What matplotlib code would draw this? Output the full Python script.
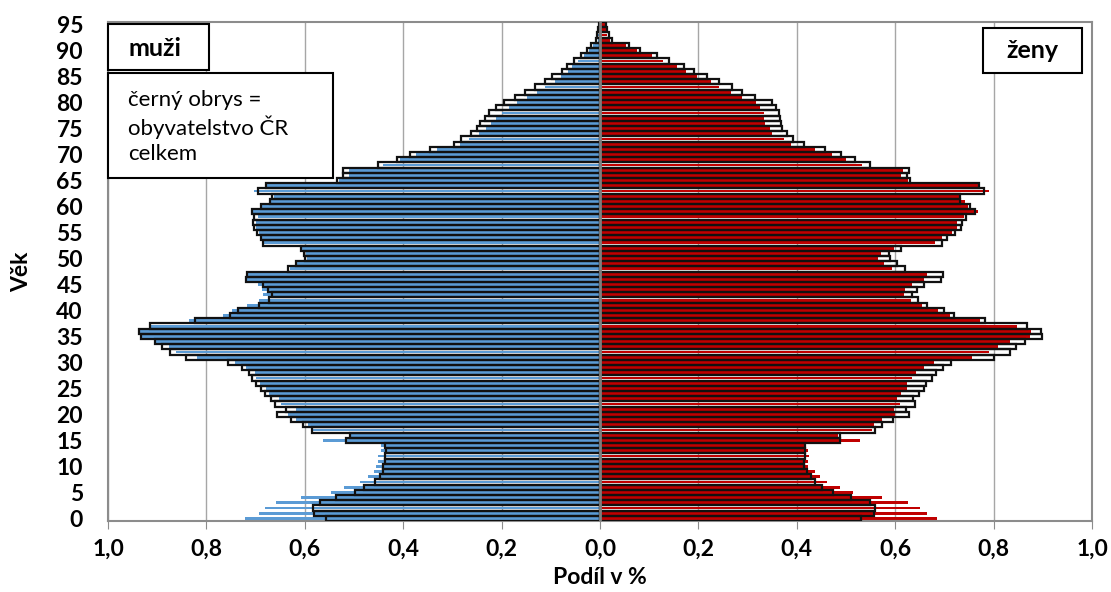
import matplotlib.pyplot as plt
from matplotlib.patches import Rectangle
import numpy as np

plt.rcParams['font.family'] = ['Lato', 'DejaVu Sans']

ages = list(range(96))

# podíl v % (muži se kreslí vlevo jako záporné hodnoty)
men_region = [0.721, 0.693, 0.680, 0.659, 0.608, 0.547, 0.520, 0.488, 0.472, 0.460,
              0.456, 0.452, 0.452, 0.445, 0.445, 0.564, 0.509, 0.584, 0.594, 0.618,
              0.635, 0.618, 0.649, 0.652, 0.672, 0.679, 0.691, 0.699, 0.701, 0.720,
              0.742, 0.820, 0.861, 0.877, 0.902, 0.934, 0.936, 0.913, 0.835, 0.766,
              0.747, 0.718, 0.694, 0.685, 0.688, 0.696, 0.718, 0.716, 0.630, 0.615,
              0.596, 0.598, 0.606, 0.682, 0.686, 0.693, 0.699, 0.699, 0.696, 0.705,
              0.686, 0.669, 0.662, 0.703, 0.676, 0.530, 0.511, 0.511, 0.441, 0.407,
              0.374, 0.332, 0.285, 0.266, 0.245, 0.232, 0.222, 0.211, 0.200, 0.185,
              0.169, 0.149, 0.129, 0.112, 0.091, 0.080, 0.066, 0.056, 0.044, 0.033,
              0.022, 0.014, 0.005, 0.004, 0.002, 0.001]
men_cr = [0.556, 0.581, 0.583, 0.570, 0.536, 0.498, 0.479, 0.458, 0.448, 0.441,
          0.441, 0.437, 0.438, 0.435, 0.437, 0.516, 0.509, 0.585, 0.603, 0.628,
          0.657, 0.638, 0.661, 0.668, 0.681, 0.689, 0.699, 0.708, 0.713, 0.728,
          0.756, 0.842, 0.873, 0.890, 0.905, 0.932, 0.936, 0.915, 0.823, 0.752,
          0.735, 0.694, 0.672, 0.666, 0.674, 0.684, 0.719, 0.718, 0.634, 0.618,
          0.599, 0.601, 0.608, 0.685, 0.689, 0.698, 0.704, 0.705, 0.703, 0.708,
          0.689, 0.671, 0.666, 0.695, 0.679, 0.535, 0.522, 0.522, 0.452, 0.413,
          0.387, 0.346, 0.297, 0.283, 0.263, 0.249, 0.243, 0.234, 0.225, 0.211,
          0.196, 0.173, 0.152, 0.132, 0.112, 0.097, 0.078, 0.068, 0.052, 0.039,
          0.027, 0.019, 0.009, 0.007, 0.005, 0.003]
women_region = [0.685, 0.664, 0.651, 0.625, 0.574, 0.515, 0.488, 0.461, 0.447, 0.437,
                0.422, 0.422, 0.424, 0.422, 0.416, 0.529, 0.484, 0.553, 0.556, 0.574,
                0.600, 0.597, 0.609, 0.603, 0.612, 0.624, 0.624, 0.635, 0.642, 0.658,
                0.678, 0.756, 0.791, 0.808, 0.834, 0.873, 0.875, 0.847, 0.773, 0.711,
                0.688, 0.654, 0.633, 0.617, 0.619, 0.634, 0.658, 0.664, 0.593, 0.578,
                0.566, 0.572, 0.597, 0.681, 0.696, 0.715, 0.725, 0.725, 0.739, 0.768,
                0.748, 0.742, 0.730, 0.791, 0.768, 0.627, 0.612, 0.615, 0.532, 0.500,
                0.471, 0.436, 0.388, 0.373, 0.349, 0.346, 0.336, 0.333, 0.333, 0.325,
                0.318, 0.288, 0.266, 0.242, 0.225, 0.198, 0.175, 0.157, 0.129, 0.105,
                0.075, 0.053, 0.020, 0.015, 0.012, 0.010]
women_cr = [0.530, 0.556, 0.558, 0.549, 0.510, 0.473, 0.452, 0.436, 0.428, 0.421,
            0.414, 0.414, 0.417, 0.416, 0.416, 0.488, 0.487, 0.558, 0.573, 0.595,
            0.628, 0.622, 0.641, 0.637, 0.649, 0.659, 0.663, 0.675, 0.683, 0.697,
            0.713, 0.800, 0.834, 0.845, 0.864, 0.898, 0.896, 0.868, 0.783, 0.719,
            0.700, 0.664, 0.646, 0.635, 0.644, 0.659, 0.693, 0.698, 0.620, 0.603,
            0.590, 0.588, 0.612, 0.695, 0.705, 0.722, 0.734, 0.736, 0.744, 0.763,
            0.753, 0.732, 0.732, 0.780, 0.771, 0.631, 0.624, 0.628, 0.549, 0.519,
            0.490, 0.458, 0.414, 0.393, 0.380, 0.370, 0.367, 0.365, 0.363, 0.358,
            0.349, 0.315, 0.289, 0.268, 0.242, 0.217, 0.191, 0.171, 0.140, 0.115,
            0.082, 0.058, 0.024, 0.018, 0.014, 0.012]

x_ticks = [-1.0, -0.8, -0.6, -0.4, -0.2, 0.0, 0.2, 0.4, 0.6, 0.8, 1.0]
x_labels = ['1,0', '0,8', '0,6', '0,4', '0,2', '0,0', '0,2', '0,4', '0,6', '0,8', '1,0']
y_ticks = list(range(0, 96, 5))

BLUE = '#5B9BD5'
RED = '#C00000'
GRAY = '#8C8C8C'
W, H = 1111, 592

fig = plt.figure(figsize=(W / 100, H / 100), dpi=100)
ax = fig.add_axes([108 / W, 1 - 521 / H, 984 / W, 499 / H])

# barevné pruhy
ax.barh(ages, -np.array(men_region), height=0.55, color=BLUE, zorder=2)
ax.barh(ages, women_region, height=0.55, color=RED, zorder=2)
# černý obrys = ČR celkem
ax.barh(ages, -np.array(men_cr), height=1.0, facecolor='none',
        edgecolor='#111111', linewidth=1.6, zorder=3)
ax.barh(ages, women_cr, height=1.0, facecolor='none',
        edgecolor='#111111', linewidth=1.6, zorder=3)

ax.axvline(0, color='#7F7F7F', linewidth=2, zorder=4)

ax.set_xlim(-1.0, 1.0)
ax.set_ylim(-0.5, 95.5)
ax.set_xticks(x_ticks)
ax.set_xticklabels(x_labels, fontweight='bold', fontsize=16.5)
ax.set_yticks(y_ticks)
ax.set_yticklabels([str(v) for v in y_ticks], fontweight='bold', fontsize=16.5)
ax.tick_params(axis='x', length=6, color=GRAY, pad=7)
ax.tick_params(axis='y', length=0, pad=18)
ax.grid(axis='x', color='#A6A6A6', linewidth=1, zorder=0)
ax.set_axisbelow(True)
for s in ax.spines.values():
    s.set_color(GRAY)
    s.set_linewidth(1.5)

ax.set_xlabel('Podíl v %', fontweight='bold', fontsize=16.5, va='center')
ax.set_ylabel('Věk', fontweight='bold', fontsize=16.5, va='center')
ax.xaxis.set_label_coords(0.5, (521 - 577) / 499, transform=ax.transAxes)
ax.yaxis.set_label_coords((22 - 108) / 984, 0.5, transform=ax.transAxes)

# popisky v rámečcích
for (x0, y0, x1, y1) in [(108, 24, 209, 70), (108, 73, 333, 178), (983, 28, 1082, 73)]:
    fig.patches.append(Rectangle((x0 / W, 1 - y1 / H), (x1 - x0) / W, (y1 - y0) / H,
                                 transform=fig.transFigure, facecolor='white',
                                 edgecolor='black', linewidth=1.5, zorder=5))
fig.text(128 / W, 1 - 48 / H, 'muži', fontweight='bold', fontsize=18,
         va='center', ha='left', zorder=6)
fig.text(1032 / W, 1 - 51 / H, 'ženy', fontweight='bold', fontsize=18,
         va='center', ha='center', zorder=6)
fig.text(128 / W, 1 - 127 / H, 'černý obrys =\nobyvatelstvo ČR\ncelkem',
         fontsize=16, va='center', ha='left', linespacing=1.3, zorder=6)

fig.savefig('out.png', dpi=100)
